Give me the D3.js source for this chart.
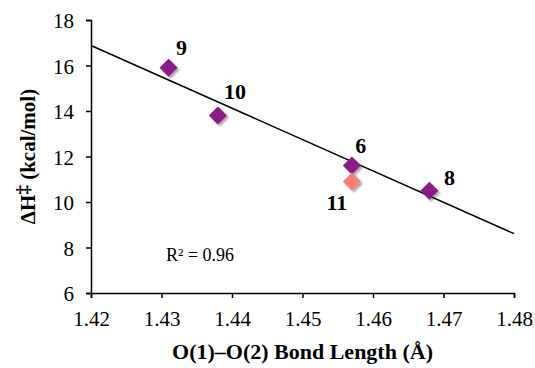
<!DOCTYPE html>
<html>
<head>
<meta charset="utf-8">
<script src="https://cdn.jsdelivr.net/npm/d3@7"></script>
<style>
  body { margin: 0; background: #fff; }
</style>
</head>
<body>
<div id="chart"></div>
<script>
const width = 535;
const height = 368;

// data
const labels = ["9", "10", "6", "8", "11"];
const bondLength = [1.431, 1.438, 1.457, 1.468, 1.457];
const enthalpy = [15.9, 13.8, 11.6, 10.5, 10.9];
const inFit = [true, true, true, true, false]; // 11 is not part of the trend line
const xTicks = [1.42, 1.43, 1.44, 1.45, 1.46, 1.47, 1.48];
const yTicks = [6, 8, 10, 12, 14, 16, 18];

const margin = { top: 20, right: 21, bottom: 75, left: 91 };
const serif = "Liberation Serif";

const svg = d3.select("#chart").append("svg")
    .attr("width", width)
    .attr("height", height)
    .attr("font-family", serif);

const defs = svg.append("defs");
const shadow = defs.append("filter").attr("id", "shadow")
    .attr("x", "-50%").attr("y", "-50%").attr("width", "200%").attr("height", "200%");
shadow.append("feDropShadow")
    .attr("dx", 2).attr("dy", 2).attr("stdDeviation", 1.2)
    .attr("flood-color", "#000").attr("flood-opacity", 0.35);

const x = d3.scaleLinear().domain([1.42, 1.48]).range([margin.left, width - margin.right]);
const y = d3.scaleLinear().domain([6, 18]).range([height - margin.bottom, margin.top]);

// axes
const xAxis = svg.append("g")
    .attr("transform", `translate(0,${height - margin.bottom})`)
    .call(d3.axisBottom(x).tickValues(xTicks).tickFormat(d3.format(".2f")).tickSizeOuter(0).tickSize(5).tickPadding(13));
const yAxis = svg.append("g")
    .attr("transform", `translate(${margin.left},0)`)
    .call(d3.axisLeft(y).tickValues(yTicks).tickFormat(d3.format("d")).tickSizeOuter(0).tickSize(5).tickPadding(12));

[xAxis, yAxis].forEach(a => {
    a.attr("font-family", serif).attr("font-size", 21);
    a.select(".domain").attr("stroke", "#000").attr("stroke-width", 1.5);
    a.selectAll(".tick line").attr("stroke", "#000").attr("stroke-width", 1.5);
    a.selectAll("text").attr("fill", "#000");
});
yAxis.selectAll("text").attr("dy", "0.38em");

// least squares fit on the purple points
const fitPts = bondLength.map((b, i) => [b, enthalpy[i]]).filter((d, i) => inFit[i]);
const mx = d3.mean(fitPts, d => d[0]);
const my = d3.mean(fitPts, d => d[1]);
const slope = d3.sum(fitPts, d => (d[0] - mx) * (d[1] - my)) / d3.sum(fitPts, d => (d[0] - mx) ** 2);
const fit = v => my + slope * (v - mx);

svg.append("line")
    .attr("x1", x(1.42)).attr("y1", y(fit(1.42)))
    .attr("x2", x(1.48)).attr("y2", y(fit(1.48)))
    .attr("stroke", "#000").attr("stroke-width", 1.5);

// markers
const pts = labels.map((l, i) => ({ label: l, x: bondLength[i], y: enthalpy[i], fit: inFit[i] }));
const r = 9;
svg.append("g").selectAll("path")
    .data(pts)
    .join("path")
    .attr("d", `M0,${-r}L${r},0L0,${r}L${-r},0Z`)
    .attr("transform", d => `translate(${x(d.x)},${y(d.y)})`)
    .attr("fill", d => d.fit ? "#8a1a86" : "#fb7f76")
    .attr("filter", "url(#shadow)");

// point labels
const labelOffset = { "9": [13, -13], "10": [17, -17], "6": [9, -13], "8": [20, -6], "11": [-15, 28] };
svg.append("g").selectAll("text")
    .data(pts)
    .join("text")
    .attr("x", d => x(d.x) + labelOffset[d.label][0])
    .attr("y", d => y(d.y) + labelOffset[d.label][1])
    .attr("text-anchor", "middle")
    .attr("font-size", 22)
    .attr("font-weight", "bold")
    .text(d => d.label);

svg.append("text")
    .attr("x", 166).attr("y", 261)
    .attr("font-size", 18)
    .text("R² = 0.96");

// axis titles
svg.append("text")
    .attr("x", (margin.left + width - margin.right) / 2)
    .attr("y", 359)
    .attr("text-anchor", "middle")
    .attr("font-size", 22)
    .attr("font-weight", "bold")
    .text("O(1)–O(2) Bond Length (Å)");

const yt = svg.append("text")
    .attr("transform", `translate(35,${(margin.top + height - margin.bottom) / 2}) rotate(-90)`)
    .attr("text-anchor", "middle")
    .attr("font-size", 21)
    .attr("font-weight", "bold");
yt.append("tspan").text("ΔH");
yt.append("tspan").attr("font-size", 19).attr("dy", -6).text("‡");
yt.append("tspan").attr("dy", 6).text(" (kcal/mol)");
</script>
</body>
</html>
